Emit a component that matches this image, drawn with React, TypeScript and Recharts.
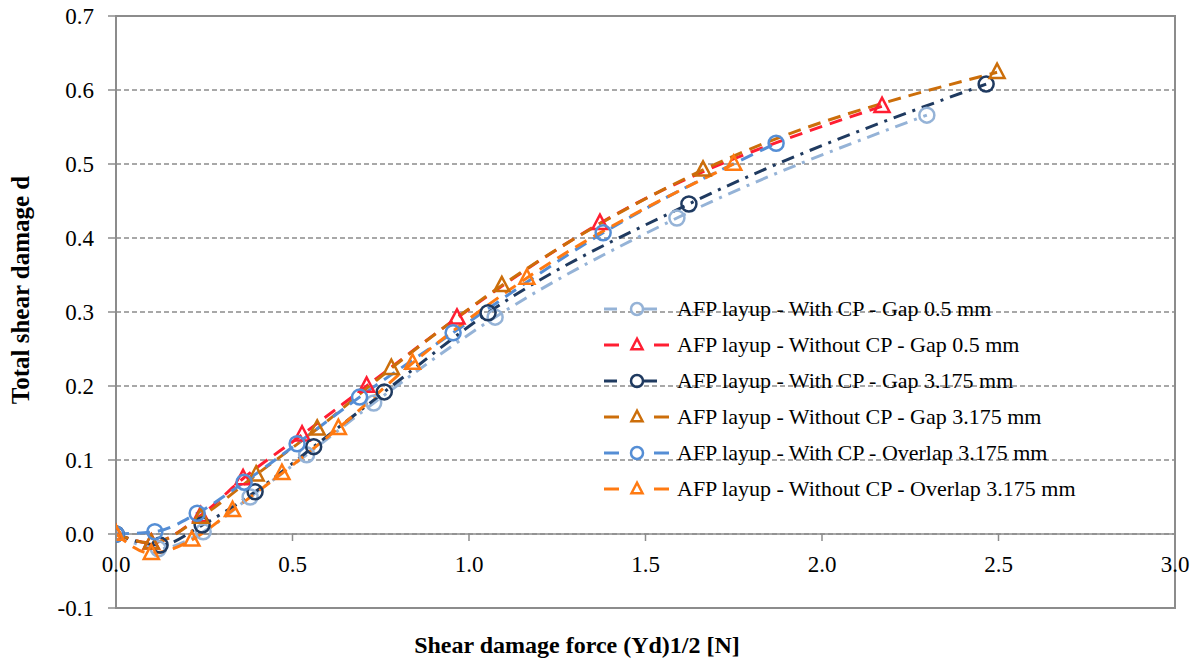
import { LineChart, Line, XAxis, YAxis, CartesianGrid, ReferenceLine, ReferenceArea, Label } from "recharts"

const FONT = "'Liberation Serif', 'Times New Roman', serif"
const GREY = "#8c8c8c"

const xTicks = [0, 0.5, 1, 1.5, 2, 2.5, 3]
const yTicks = [-0.1, 0, 0.1, 0.2, 0.3, 0.4, 0.5, 0.6, 0.7]

// AFP layup - With CP - Gap 0.5 mm
const withCpGap05X = [0, 0.12, 0.247, 0.38, 0.54, 0.73, 1.074, 1.589, 2.297]
const withCpGap05Y = [0, -0.02, 0.003, 0.05, 0.107, 0.177, 0.293, 0.427, 0.566]
// AFP layup - Without CP - Gap 0.5 mm
const noCpGap05X = [0, 0.1, 0.24, 0.36, 0.527, 0.71, 0.966, 1.371, 2.17]
const noCpGap05Y = [0, -0.012, 0.025, 0.075, 0.134, 0.2, 0.292, 0.42, 0.578]
// AFP layup - With CP - Gap 3.175 mm
const withCpGap3X = [0, 0.125, 0.244, 0.394, 0.56, 0.76, 1.054, 1.623, 2.465]
const withCpGap3Y = [0, -0.015, 0.012, 0.057, 0.118, 0.192, 0.299, 0.446, 0.608]
// AFP layup - Without CP - Gap 3.175 mm
const noCpGap3X = [0, 0.1, 0.24, 0.397, 0.57, 0.78, 1.093, 1.663, 2.496]
const noCpGap3Y = [0, -0.012, 0.023, 0.08, 0.142, 0.224, 0.336, 0.492, 0.624]
// AFP layup - With CP - Overlap 3.175 mm
const withCpOverlapX = [0, 0.11, 0.23, 0.363, 0.513, 0.69, 0.955, 1.38, 1.87]
const withCpOverlapY = [0, 0.003, 0.028, 0.07, 0.122, 0.185, 0.272, 0.407, 0.528]
// AFP layup - Without CP - Overlap 3.175 mm
const noCpOverlapX = [0, 0.1, 0.215, 0.33, 0.47, 0.63, 0.84, 1.164, 1.75]
const noCpOverlapY = [0, -0.026, -0.008, 0.032, 0.082, 0.143, 0.231, 0.346, 0.5]

const DASH = "13 8"
const DASH_DOT = "13 7 3 7"

const toPoints = (xs: number[], ys: number[]) => xs.map((x, i) => ({ x, y: ys[i] }))

const series = [
  { name: "AFP layup - With CP - Gap 0.5 mm", data: toPoints(withCpGap05X, withCpGap05Y), color: "#95B3D7", dash: DASH_DOT, marker: "circle" },
  { name: "AFP layup - Without CP - Gap 0.5 mm", data: toPoints(noCpGap05X, noCpGap05Y), color: "#FF1E32", dash: DASH, marker: "triangle" },
  { name: "AFP layup - With CP - Gap 3.175 mm", data: toPoints(withCpGap3X, withCpGap3Y), color: "#1F3A60", dash: DASH_DOT, marker: "circle" },
  { name: "AFP layup - Without CP - Gap 3.175 mm", data: toPoints(noCpGap3X, noCpGap3Y), color: "#CC6E0A", dash: DASH, marker: "triangle" },
  { name: "AFP layup - With CP - Overlap 3.175 mm", data: toPoints(withCpOverlapX, withCpOverlapY), color: "#558ED5", dash: DASH, marker: "circle" },
  { name: "AFP layup - Without CP - Overlap 3.175 mm", data: toPoints(noCpOverlapX, noCpOverlapY), color: "#FF7A12", dash: DASH, marker: "triangle" },
]

const Marker = ({ cx, cy, color, kind, size = 7.5 }: any) => {
  if (cx == null || cy == null) return null
  if (kind === "circle") {
    return <circle cx={cx} cy={cy} r={size} fill="none" stroke={color} strokeWidth={2.5} />
  }
  const h = size * 1.9
  const pts = `${cx},${cy - h * 0.6} ${cx - size},${cy + h * 0.4} ${cx + size},${cy + h * 0.4}`
  return <polygon points={pts} fill="none" stroke={color} strokeWidth={2.5} strokeLinejoin="miter" />
}

// plot area: 592px high for 0.8 units; zero line sits 74px above the bottom
const ZERO_SHIFT = 74

const XTick = ({ x, y, payload }: any) => {
  const zy = y - ZERO_SHIFT
  return (
    <g>
      <line x1={x} x2={x} y1={zy} y2={zy + 7} stroke={GREY} strokeWidth={1.5} />
      <text x={x} y={zy + 38} textAnchor="middle" fontFamily={FONT} fontSize={23} fill="#000">
        {payload.value.toFixed(1)}
      </text>
    </g>
  )
}

const YTick = ({ x, y, payload }: any) => (
  <text x={x} y={y} dy={8} textAnchor="end" fontFamily={FONT} fontSize={23} fill="#000">
    {payload.value.toFixed(1)}
  </text>
)

const LegendBox = () => (
  <div style={{ position: "absolute", left: 604, top: 291, fontFamily: FONT, fontSize: 22, color: "#000" }}>
    {series.map((s) => (
      <div key={s.name} style={{ display: "flex", alignItems: "center", height: 36 }}>
        <svg width={73} height={24} style={{ flex: "none" }}>
          {s.dash === DASH ? (
            <>
              <line x1={0} x2={15} y1={12} y2={12} stroke={s.color} strokeWidth={3} />
              <line x1={50} x2={65} y1={12} y2={12} stroke={s.color} strokeWidth={3} />
            </>
          ) : (
            <>
              <line x1={0} x2={13} y1={12} y2={12} stroke={s.color} strokeWidth={3} />
              <line x1={40} x2={53} y1={12} y2={12} stroke={s.color} strokeWidth={3} />
            </>
          )}
          <Marker cx={33} cy={12} color={s.color} kind={s.marker} size={s.marker === "circle" ? 6 : 5.5} />
        </svg>
        <span style={{ whiteSpace: "nowrap" }}>{s.name}</span>
      </div>
    ))}
  </div>
)

export default function App() {
  return (
    <div style={{ position: "absolute", left: 0, top: 0, width: 1201, height: 671, background: "#fff" }}>
      <LineChart width={1201} height={671} margin={{ top: 16, right: 26, left: 0, bottom: 0 }}>
        <CartesianGrid vertical={false} stroke={GREY} strokeDasharray="5 3" strokeWidth={1.5} />
        <XAxis
          type="number"
          dataKey="x"
          domain={[0, 3]}
          ticks={xTicks}
          height={63}
          tick={<XTick />}
          tickLine={false}
          tickSize={0}
          tickMargin={0}
          axisLine={{ stroke: GREY, strokeWidth: 2 }}
          allowDataOverflow
        >
          <Label
            content={() => (
              <text x={577} y={653} textAnchor="middle" fontFamily={FONT} fontSize={24} fontWeight="bold" fill="#000">
                Shear damage force (Yd)1/2 [N]
              </text>
            )}
          />
        </XAxis>
        <YAxis
          type="number"
          domain={[-0.1, 0.7]}
          ticks={yTicks}
          width={116}
          tick={<YTick />}
          tickLine={{ stroke: GREY, strokeWidth: 1.5 }}
          tickSize={8}
          tickMargin={14}
          axisLine={{ stroke: GREY, strokeWidth: 2 }}
          allowDataOverflow
        >
          <Label
            content={() => (
              <text
                x={29}
                y={290}
                transform="rotate(-90 29 290)"
                textAnchor="middle"
                fontFamily={FONT}
                fontSize={25}
                fontWeight="bold"
                fill="#000"
              >
                Total shear damage d
              </text>
            )}
          />
        </YAxis>
        <ReferenceArea x1={0} x2={3} y1={-0.1} y2={0.7} fill="none" stroke={GREY} strokeWidth={2} />
        <ReferenceLine y={0} stroke={GREY} strokeWidth={1.5} />
        {series.map((s) => (
          <Line
            key={s.name}
            data={s.data}
            dataKey="y"
            name={s.name}
            type="monotone"
            stroke={s.color}
            strokeWidth={3}
            strokeDasharray={s.dash}
            dot={(p: any) => <Marker key={`${s.name}-${p.index}`} cx={p.cx} cy={p.cy} color={s.color} kind={s.marker} />}
            activeDot={false}
            isAnimationActive={false}
          />
        ))}
      </LineChart>
      <LegendBox />
    </div>
  )
}
